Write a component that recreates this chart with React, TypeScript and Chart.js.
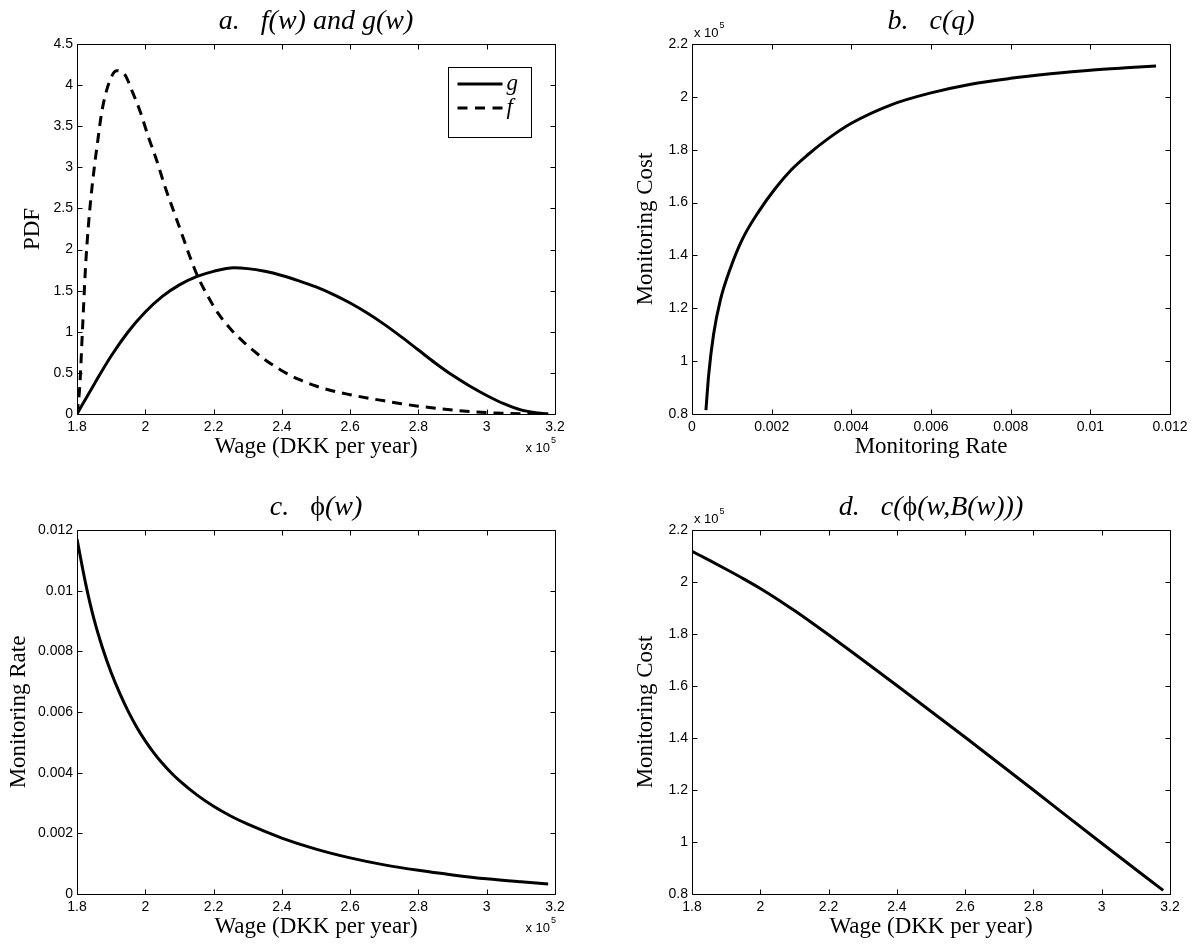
import React, { useEffect, useRef } from "react";
import { Chart, registerables } from "chart.js";

Chart.register(...registerables);

const SANS = '"Liberation Sans", Arial, Helvetica, sans-serif';
const SERIF = '"Liberation Serif", "Times New Roman", serif';

// ---------- Panel a: f(w) and g(w) ----------
const A_WAGE_G = [180000, 185000, 190000, 195000, 200000, 205000, 210000, 215000, 220000, 226000, 230000, 235000, 240000, 245000, 250000, 255000, 260000, 265000, 270000, 275000, 280000, 285000, 290000, 295000, 300000, 305000, 310000, 315000, 318000];
const A_PDF_G = [0, 0.36, 0.705, 1.0, 1.24, 1.43, 1.57, 1.67, 1.735, 1.778, 1.768, 1.735, 1.685, 1.62, 1.545, 1.455, 1.35, 1.228, 1.09, 0.938, 0.778, 0.618, 0.47, 0.34, 0.225, 0.125, 0.05, 0.012, 0];
const A_WAGE_F = [180000, 180800, 181600, 182500, 183300, 184100, 185100, 186100, 187200, 188700, 190600, 191600, 194100, 196000, 198500, 200900, 203300, 205800, 208200, 210700, 213100, 215500, 218500, 221400, 225300, 229200, 234100, 239900, 245000, 250000, 255000, 260000, 265000, 270000, 275000, 280000, 285000, 290000, 295000, 300000, 305000, 310000, 318000];
const A_PDF_F = [0, 0.33, 1.02, 1.79, 2.27, 2.64, 3.01, 3.33, 3.66, 3.94, 4.14, 4.175, 4.12, 3.94, 3.68, 3.37, 3.09, 2.76, 2.48, 2.19, 1.91, 1.66, 1.42, 1.22, 1.02, 0.86, 0.69, 0.53, 0.42, 0.34, 0.28, 0.235, 0.195, 0.16, 0.125, 0.095, 0.07, 0.048, 0.03, 0.017, 0.008, 0.003, 0];

// ---------- Panel b: c(q) ----------
const B_RATE = [0.00035, 0.00042, 0.00054, 0.00071, 0.00096, 0.00126, 0.00167, 0.0021, 0.0025, 0.0029, 0.0034, 0.004, 0.005, 0.006, 0.007, 0.008, 0.009, 0.01, 0.011, 0.01165];
const B_COST = [81500, 95000, 110000, 123000, 135000, 146000, 156500, 165500, 172500, 178000, 184000, 190000, 197000, 201500, 204800, 207000, 208700, 210100, 211100, 211700];

// ---------- Panel c: phi(w) ----------
const C_WAGE = [180000, 182500, 185000, 187500, 190000, 192500, 195000, 197500, 200000, 202500, 205000, 207500, 210000, 215000, 220000, 225000, 230000, 240000, 250000, 260000, 270000, 280000, 290000, 300000, 310000, 318000];
const C_RATE = [0.0117, 0.01025, 0.00905, 0.0081, 0.0073, 0.00662, 0.00602, 0.0055, 0.00505, 0.004655, 0.00431, 0.004005, 0.003735, 0.003275, 0.00289, 0.00257, 0.0023, 0.001845, 0.00148, 0.00119, 0.00096, 0.00078, 0.00063, 0.0005, 0.0004, 0.00033];

// ---------- Panel d: c(phi(w,B(w))) ----------
const D_WAGE = [180000, 185000, 190000, 195000, 200000, 205000, 210000, 215000, 220000, 230000, 240000, 260000, 280000, 300000, 318000];
const D_COST = [211800, 208400, 204900, 201300, 197500, 193400, 189000, 184400, 179700, 170000, 160200, 140300, 120000, 99500, 81400];

// ---------- Tick labels ----------
const WAGE_TICKS = [180000, 200000, 220000, 240000, 260000, 280000, 300000, 320000];
const PDF_TICKS = [0, 0.5, 1, 1.5, 2, 2.5, 3, 3.5, 4, 4.5];
const RATE_TICKS = [0, 0.002, 0.004, 0.006, 0.008, 0.01, 0.012];
const COST_TICKS = [80000, 100000, 120000, 140000, 160000, 180000, 200000, 220000];

const fmt = (v: number) => String(parseFloat(v.toFixed(6)));

const framePlugin = {
  id: "frame",
  afterDraw(chart: any, _args: any, opts: any) {
    const { ctx, chartArea } = chart;
    const { left, right, top, bottom } = chartArea;
    const xs = chart.scales.x;
    const ys = chart.scales.y;
    const L = Math.round(left) + 0.5;
    const R = Math.round(right) + 0.5;
    const T = Math.round(top) + 0.5;
    const B = Math.round(bottom) + 0.5;
    const TL = 5;
    ctx.save();
    ctx.setLineDash([]);
    ctx.strokeStyle = "#000";
    ctx.lineWidth = 1;
    ctx.beginPath();
    ctx.rect(L, T, R - L, B - T);
    for (const t of xs.ticks) {
      const p = Math.round(xs.getPixelForValue(t.value)) + 0.5;
      ctx.moveTo(p, B);
      ctx.lineTo(p, B - TL);
      ctx.moveTo(p, T);
      ctx.lineTo(p, T + TL);
    }
    for (const t of ys.ticks) {
      const p = Math.round(ys.getPixelForValue(t.value)) + 0.5;
      ctx.moveTo(L, p);
      ctx.lineTo(L + TL, p);
      ctx.moveTo(R, p);
      ctx.lineTo(R - TL, p);
    }
    ctx.stroke();

    ctx.fillStyle = "#000";
    ctx.textBaseline = "middle";
    const cx = (left + right) / 2;
    const cy = (top + bottom) / 2;

    // title (segments: [text, italic])
    const segs: any[] = opts.title || [];
    const fonts = segs.map((s: any) => `${s[1] ? "italic " : ""}28px ${SERIF}`);
    let total = 0;
    const widths = segs.map((s: any, i: number) => {
      ctx.font = fonts[i];
      const w = ctx.measureText(s[0]).width;
      total += w;
      return w;
    });
    let tx = cx - total / 2;
    ctx.textAlign = "left";
    segs.forEach((s: any, i: number) => {
      ctx.font = fonts[i];
      ctx.fillText(s[0], tx, top - 22);
      tx += widths[i];
    });

    // axis titles
    ctx.font = `23px ${SERIF}`;
    ctx.textAlign = "center";
    ctx.fillText(opts.xTitle, cx, bottom + 33);
    ctx.save();
    ctx.translate(left - opts.yOff, cy);
    ctx.rotate(-Math.PI / 2);
    ctx.fillText(opts.yTitle, 0, 0);
    ctx.restore();

    // exponent labels
    if (opts.exp === "br") {
      ctx.font = `13px ${SANS}`;
      ctx.textAlign = "right";
      ctx.fillText("x 10", right - 5, bottom + 34);
      ctx.font = `9px ${SANS}`;
      ctx.textAlign = "left";
      ctx.fillText("5", right - 4, bottom + 27);
    } else if (opts.exp === "tl") {
      ctx.font = `13px ${SANS}`;
      ctx.textAlign = "left";
      ctx.fillText("x 10", left + 2, top - 11);
      const w = ctx.measureText("x 10").width;
      ctx.font = `9px ${SANS}`;
      ctx.fillText("5", left + 3 + w, top - 18);
    }

    // legend
    if (opts.legend) {
      const bx = Math.round(right) - 107 + 0.5;
      const by = Math.round(top) + 23 + 0.5;
      ctx.lineWidth = 1;
      ctx.strokeRect(bx, by, 83, 70);
      opts.legend.forEach((it: any, i: number) => {
        const ry = top + 40 + i * 24;
        ctx.beginPath();
        ctx.lineWidth = 3;
        ctx.setLineDash(it.dash);
        ctx.moveTo(bx + 9, ry);
        ctx.lineTo(bx + 54, ry);
        ctx.stroke();
        ctx.setLineDash([]);
        ctx.font = `italic 23px ${SERIF}`;
        ctx.textAlign = "left";
        ctx.fillText(it.label, bx + 58, ry);
      });
    }
    ctx.restore();
  },
};

function axis(ticks: number[], div: number, horizontal: boolean, size: number) {
  return {
    type: "linear",
    min: ticks[0],
    max: ticks[ticks.length - 1],
    afterBuildTicks: (s: any) => {
      s.ticks = ticks.map((v) => ({ value: v }));
    },
    afterFit: (s: any) => {
      if (horizontal) s.height = size;
      else s.width = size;
    },
    grid: { display: false, drawTicks: false },
    border: { display: false },
    ticks: {
      color: "#000",
      font: { family: SANS, size: 14 },
      padding: horizontal ? 5 : 4,
      autoSkip: false,
      maxRotation: 0,
      minRotation: 0,
      callback: (v: any) => fmt(Number(v) / div),
    },
  };
}

const DASH = [10, 7];

const PANELS = [
  {
    key: "a",
    canvas: { x: 0, y: 0, w: 600, h: 470 },
    area: { l: 77, r: 555, t: 44, b: 414 },
    xTicks: WAGE_TICKS, xDiv: 1e5,
    yTicks: PDF_TICKS, yDiv: 1,
    datasets: [
      { label: "g", xs: A_WAGE_G, ys: A_PDF_G, dash: [] },
      { label: "f", xs: A_WAGE_F, ys: A_PDF_F, dash: DASH },
    ],
    frame: {
      title: [["a.   f(w) and g(w)", true]],
      xTitle: "Wage (DKK per year)", yTitle: "PDF", yOff: 44, exp: "br",
      legend: [{ label: "g", dash: [] }, { label: "f", dash: [10, 7.5] }],
    },
  },
  {
    key: "b",
    canvas: { x: 600, y: 0, w: 593, h: 470 },
    area: { l: 692, r: 1170, t: 44, b: 414 },
    xTicks: RATE_TICKS, xDiv: 1,
    yTicks: COST_TICKS, yDiv: 1e5,
    datasets: [{ label: "c(q)", xs: B_RATE, ys: B_COST, dash: [] }],
    frame: {
      title: [["b.   c(q)", true]],
      xTitle: "Monitoring Rate", yTitle: "Monitoring Cost", yOff: 46, exp: "tl",
    },
  },
  {
    key: "c",
    canvas: { x: 0, y: 470, w: 600, h: 475 },
    area: { l: 77, r: 555, t: 530, b: 894 },
    xTicks: WAGE_TICKS, xDiv: 1e5,
    yTicks: RATE_TICKS, yDiv: 1,
    datasets: [{ label: "phi(w)", xs: C_WAGE, ys: C_RATE, dash: [] }],
    frame: {
      title: [["c.   ", true], ["ϕ", false], ["(w)", true]],
      xTitle: "Wage (DKK per year)", yTitle: "Monitoring Rate", yOff: 58, exp: "br",
    },
  },
  {
    key: "d",
    canvas: { x: 600, y: 470, w: 593, h: 475 },
    area: { l: 692, r: 1170, t: 530, b: 894 },
    xTicks: WAGE_TICKS, xDiv: 1e5,
    yTicks: COST_TICKS, yDiv: 1e5,
    datasets: [{ label: "c(phi(w,B(w)))", xs: D_WAGE, ys: D_COST, dash: [] }],
    frame: {
      title: [["d.   c(", true], ["ϕ", false], ["(w,B(w)))", true]],
      xTitle: "Wage (DKK per year)", yTitle: "Monitoring Cost", yOff: 46, exp: "tl",
    },
  },
];

const YW = 60;
const XH = 30;

function buildConfig(spec: any): any {
  const { canvas, area } = spec;
  const padding = {
    left: area.l - canvas.x - YW,
    top: area.t - canvas.y,
    right: canvas.x + canvas.w - area.r,
    bottom: canvas.y + canvas.h - area.b - XH,
  };
  return {
    type: "line",
    data: {
      datasets: spec.datasets.map((ds: any) => ({
        label: ds.label,
        data: ds.xs.map((x: number, i: number) => ({ x, y: ds.ys[i] })),
        borderColor: "#000",
        backgroundColor: "#000",
        borderWidth: 3,
        borderDash: ds.dash,
        pointRadius: 0,
        fill: false,
        cubicInterpolationMode: "monotone",
      })),
    },
    options: {
      animation: false,
      responsive: false,
      maintainAspectRatio: false,
      devicePixelRatio: 1,
      events: [],
      layout: { padding },
      plugins: {
        legend: { display: false },
        tooltip: { enabled: false },
        title: { display: false },
        frame: spec.frame,
      },
      scales: {
        x: axis(spec.xTicks, spec.xDiv, true, XH),
        y: axis(spec.yTicks, spec.yDiv, false, YW),
      },
    },
    plugins: [framePlugin],
  };
}

function Panel({ spec }: { spec: any }) {
  const ref = useRef<HTMLCanvasElement | null>(null);
  useEffect(() => {
    const chart = new Chart(ref.current as HTMLCanvasElement, buildConfig(spec));
    return () => chart.destroy();
  }, [spec]);
  const { x, y, w, h } = spec.canvas;
  return (
    <canvas
      ref={ref}
      width={w}
      height={h}
      style={{ position: "absolute", left: x, top: y, width: w, height: h }}
    />
  );
}

export default function App() {
  return (
    <div style={{ position: "absolute", left: 0, top: 0, width: 1193, height: 945, background: "#fff" }}>
      {PANELS.map((p) => (
        <Panel key={p.key} spec={p} />
      ))}
    </div>
  );
}
